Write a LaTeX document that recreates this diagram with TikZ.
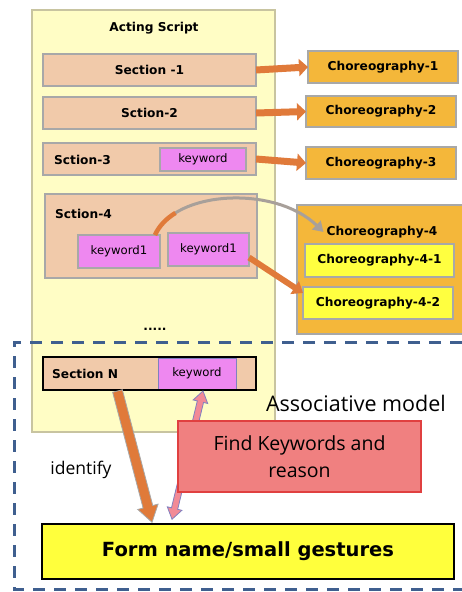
\documentclass[tikz,border=0pt]{standalone}
\usepackage{fontspec}
\setmainfont{DejaVu Sans}
\newfontfamily\lightf{Open Sans}
\usetikzlibrary{arrows.meta,calc}
\definecolor{yellowbg}{HTML}{FFFDC5}
\definecolor{ybord}{HTML}{C8C4A0}
\definecolor{peach}{HTML}{F1CAAA}
\definecolor{gbord}{HTML}{A8A8A8}
\definecolor{violetk}{HTML}{EE88F0}
\definecolor{gold}{HTML}{F4B73A}
\definecolor{yellow2}{HTML}{FFFF40}
\definecolor{arrorange}{HTML}{E07A3A}
\definecolor{arrgray}{HTML}{A8A09A}
\definecolor{dashblue}{HTML}{3F5F8F}
\definecolor{findfill}{HTML}{F08080}
\definecolor{findbord}{HTML}{E04040}
\definecolor{pinkarr}{HTML}{F28A96}
\definecolor{pinkbord}{HTML}{8080C0}
\definecolor{formyellow}{HTML}{FFFF3C}
\newcommand\blkarrow[6]{%
  \coordinate (baH) at ($(#3)!#5!(#2)$);
  \filldraw[#1] ($(#2)!#4!90:(#3)$) -- ($(baH)!#4!90:(#3)$) -- ($(baH)!#6!90:(#3)$) -- (#3)
    -- ($(baH)!#6!-90:(#3)$) -- ($(baH)!#4!-90:(#3)$) -- ($(#2)!#4!-90:(#3)$) -- cycle;}
\newcommand\dblarrow[6]{%
  \coordinate (daA) at ($(#2)!#5!(#3)$);
  \coordinate (daB) at ($(#3)!#5!(#2)$);
  \filldraw[#1] (#2) -- ($(daA)!#6!90:(#3)$) -- ($(daA)!#4!90:(#3)$) -- ($(daB)!#4!90:(#3)$)
    -- ($(daB)!#6!90:(#3)$) -- (#3) -- ($(daB)!#6!-90:(#3)$) -- ($(daB)!#4!-90:(#3)$)
    -- ($(daA)!#4!-90:(#3)$) -- ($(daA)!#6!-90:(#3)$) -- cycle;}
\tikzset{
  bx/.style={draw=gbord, line width=1.3pt, inner sep=0pt, outer sep=0pt, font=\fontsize{12.2}{14}\selectfont\bfseries},
  secbox/.style={bx, fill=peach},
  kwbox/.style={bx, fill=violetk, font=\fontsize{11.7}{13}\selectfont},
  chbox/.style={bx, fill=gold},
  ch2box/.style={bx, fill=yellow2},
  lbl/.style={inner sep=0pt, font=\fontsize{12.2}{14}\selectfont\bfseries},
  orarrow/.style={draw=arrorange, line width=7pt, -{Triangle[length=9pt, width=17pt]}},
}
\begin{document}
\begin{tikzpicture}[x=1pt, y=-1pt]
\useasboundingbox (0,0) rectangle (462,592);
% acting script
\node[draw=ybord, fill=yellowbg, line width=1.3pt, minimum width=243pt, minimum height=422pt, inner sep=0pt] (script) at (153.5,221) {};
\node[lbl] (title) at (154,28) {Acting Script};
\node[secbox, minimum width=213pt, minimum height=32pt] (s1) at (149.5,70) {Section -1};
\node[secbox, minimum width=213pt, minimum height=32pt] (s2) at (149.5,113) {Sction-2};
\node[secbox, minimum width=213pt, minimum height=32pt] (s3) at (149.5,159) {};
\node[lbl, anchor=west] (s3l) at (54,160) {Sction-3};
\node[kwbox, minimum width=86pt, minimum height=23pt] (kw3) at (203,159.5) {keyword};
\node[chbox, minimum width=150pt, minimum height=32pt] (c1) at (383,67) {Choreography-1};
\node[chbox, minimum width=150pt, minimum height=31pt] (c2) at (381,111.5) {Choreography-2};
\node[chbox, minimum width=150pt, minimum height=32pt] (c3) at (381,163) {Choreography-3};
% section 4
\node[secbox, minimum width=212pt, minimum height=84pt] (s4) at (151,236) {};
\node[lbl, anchor=west] (s4l) at (55,214) {Sction-4};
\node[kwbox, minimum width=82pt, minimum height=33pt] (kw4a) at (119,251.5) {keyword1};
\node[kwbox, minimum width=81pt, minimum height=33pt] (kw4b) at (208.5,249.5) {keyword1};
\node[chbox, draw=none, minimum width=165pt, minimum height=129pt] (c4) at (379.5,269.5) {};
\draw[gbord, line width=1.3pt] (462,205) -- (297,205) -- (297,334) -- (462,334);
\node[lbl] (c4l) at (382,232) {Choreography-4};
\node[ch2box, minimum width=149pt, minimum height=33pt] (c41) at (379.5,260.5) {Choreography-4-1};
\node[ch2box, minimum width=150pt, minimum height=32pt] (c42) at (378,303) {Choreography-4-2};
\node[lbl] (dots) at (155,329) {.....};
% arrows top
\draw[orarrow] (s1.east) -- (c1.west);
\draw[orarrow] (s2.east) -- (c2.west);
\draw[orarrow] (s3.east) -- (c3.west);
\coordinate (cst) at ([xshift=-5pt]kw4a.north east);
\coordinate (cen) at ([xshift=-3pt]c4l.west);
\draw[arrgray, line width=3pt, -{Triangle[length=10pt, width=12pt]}] (cst) .. controls (175,190) and (275,185) .. (cen);
\draw[arrorange, line width=4.5pt] (cst) .. controls (159,226) and (166.2,218.6) .. (175.5,212.9);
\coordinate (k2s) at ([yshift=-8pt]kw4b.east);
\coordinate (k2e) at ([yshift=10pt]c42.west);
\draw[arrorange, line width=6pt, -{Triangle[length=10pt, width=15pt]}] (k2s) -- (k2e);
% dashed region
\draw[dashblue, line width=3pt, dash pattern=on 12pt off 9pt] (462,342) -- (14,342) -- (14,589) -- (462,589);
% section N
\node[bx, draw=black, fill=peach, minimum width=213pt, minimum height=33pt] (sN) at (149.5,373.5) {};
\node[lbl, anchor=west] (sNl) at (52,374) {Section N};
\node[kwbox, draw=pinkbord, line width=1pt, minimum width=78pt, minimum height=31pt] (kwN) at (197,373.5) {keyword};
\draw[black, line width=1.3pt] (sN.north west) rectangle (sN.south east);
\node[inner sep=0pt, font=\lightf\fontsize{21.5}{24}\selectfont] (assoc) at (356,403) {Associative model};
% bottom arrows
\node[draw=black, line width=1.5pt, fill=formyellow, minimum width=412pt, minimum height=55pt, inner sep=0pt, font=\fontsize{19.5}{22}\selectfont\bfseries] (form) at (248,551.5) {Form name/small gestures};
\coordinate (oa1) at ([xshift=-32pt,yshift=-1pt]sN.south);
\coordinate (oa2) at ([xshift=-96pt,yshift=1pt]form.north);
\blkarrow{fill=arrorange, draw=gbord, line width=0.8pt}{oa1}{oa2}{5pt}{16pt}{10.5pt}
\coordinate (pa1) at ([xshift=6pt,yshift=-2pt]kwN.south);
\coordinate (pa2) at ([xshift=-76pt,yshift=4pt]form.north);
\dblarrow{fill=pinkarr, draw=pinkbord, line width=0.8pt}{pa1}{pa2}{3.2pt}{11pt}{7.5pt}
\node[draw=findbord, line width=1.3pt, fill=findfill, minimum width=243pt, minimum height=71pt, inner sep=0pt, align=center, font=\lightf\fontsize{19.5}{27}\selectfont] (find) at (299.5,456.5) {Find Keywords and\\reason};
\node[inner sep=0pt, font=\lightf\fontsize{17.5}{20}\selectfont] (ident) at (81,470) {identify};
\end{tikzpicture}
\end{document}
